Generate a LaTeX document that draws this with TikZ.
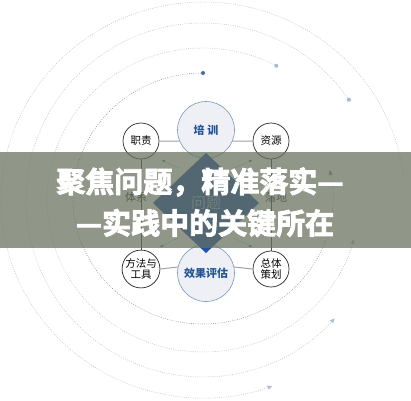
\documentclass[tikz,border=0pt]{standalone}
\usepackage{fontspec}
\setmainfont{Noto Sans CJK SC}
\newfontfamily\headfont[FakeBold=3]{Noto Sans CJK SC Bold}
\usetikzlibrary{arrows.meta}
\definecolor{arcone}{RGB}{120,140,175}
\definecolor{arcout}{RGB}{175,188,205}
\definecolor{dotone}{RGB}{70,105,160}
\definecolor{dotout}{RGB}{165,185,212}
\definecolor{bannerc}{RGB}{102,112,91}
\definecolor{diamc}{RGB}{32,80,172}
\definecolor{bigfill}{RGB}{238,240,245}
\definecolor{bigline}{RGB}{120,150,185}
\definecolor{bigtext}{RGB}{35,85,150}
\definecolor{linkc}{RGB}{160,160,160}
\definecolor{greenc}{RGB}{60,150,90}
\tikzset{
  arcdot/.style={line width=0.5pt, dash pattern=on 0.8pt off 1.4pt},
  tipx/.style={-{Triangle[length=4.5pt,width=4pt]}},
  bigc/.style={circle, minimum size=57pt, inner sep=0pt, fill=bigfill, draw=bigline, line width=0.6pt,
    text=bigtext, font=\bfseries\fontsize{11}{12}\selectfont},
  smallc/.style={circle, minimum size=36pt, inner sep=0pt, fill=white, draw=black!85, line width=0.7pt,
    align=center, font=\fontsize{10.5}{11.5}\selectfont},
  linkh/.style={draw=linkc, line width=1pt},
  linkv/.style={draw=black!70, line width=0.6pt},
  greenarr/.style={draw=greenc, line width=0.4pt, dash pattern=on 1pt off 1pt, -{Triangle[length=3pt,width=2.6pt]}},
  sidelab/.style={text=black!80, font=\fontsize{11}{12}\selectfont},
  headl/.style={text=white, font=\headfont\fontsize{29}{31}\selectfont}
}
\begin{document}
\begin{tikzpicture}[x=1pt,y=1pt]
\useasboundingbox (0,0) rectangle (411,400);
\fill[white] (0,0) rectangle (411,400);
% concentric dotted arcs
\draw[arcdot, color=arcone, tipx] ({203+130*cos(90)},{201.5+125.5*sin(90)}) arc[start angle=90, end angle=373, x radius=130, y radius=125.5];
\draw[arcdot, color=arcout, tipx] ({203+156*cos(62)},{200+152*sin(62)}) arc[start angle=62, end angle=345, x radius=156, y radius=152];
\draw[arcdot, color=arcout, tipx] ({203+177*cos(34.5)},{200+177*sin(34.5)}) arc[start angle=34.5, end angle=318, x radius=177, y radius=177];
\draw[arcdot, color=arcout, tipx] ({203+202*cos(7.5)},{200+198*sin(7.5)}) arc[start angle=7.5, end angle=290, x radius=202, y radius=198];
\fill[dotone] ({203+130*cos(90)},{201.5+125.5*sin(90)}) circle (2);
\fill[dotout] ({203+156*cos(62)},{200+152*sin(62)}) circle (2);
\fill[dotout] ({203+177*cos(34.5)},{200+177*sin(34.5)}) circle (2);
% nodes
\node[bigc] (px) at (206,270) {培\ 训};
\node[bigc] (xg) at (206,127) {效果评估};
\node[smallc] (zz) at (141,259) {职责};
\node[smallc] (zy) at (271,259) {资源};
\node[smallc] (ff) at (141,131) {方法与\\工具};
\node[smallc] (zt) at (271,131) {总体\\策划};
% connectors
\draw[linkh] (zz.east) -- (px.203);
\draw[linkh] (zy.west) -- (px.-23);
\draw[linkh] (ff.east) -- (xg.168);
\draw[linkh] (zt.west) -- (xg.12);
\draw[linkv] (zz.south) -- (ff.north);
\draw[linkv] (zy.south) -- (zt.north);
% diamond
\fill[diamc] (206,247) -- (259,197) -- (206,147) -- (153,197) -- cycle;
\node[text={rgb,255:red,150;green,172;blue,205}, font=\fontsize{15}{16}\selectfont] (wt) at (206,197) {问题};
\node[sidelab] (tx) at (136,203) {体系};
\node[sidelab] (ld) at (276,203) {落地};
% green arrows
\coordinate (g1) at (178,232); \coordinate (g1e) at (162,240);
\coordinate (g2) at (234,232); \coordinate (g2e) at (252,240);
\coordinate (g3) at (178,162); \coordinate (g3e) at (160,153);
\coordinate (g4) at (234,162); \coordinate (g4e) at (252,153);
\draw[greenarr] (g1) -- (g1e);
\draw[greenarr] (g2) -- (g2e);
\draw[greenarr] (g3) -- (g3e);
\draw[greenarr] (g4) -- (g4e);
% banner
\fill[bannerc, opacity=0.72] (0,152) rectangle (411,248);
\node[headl] (h1) at (200,218) {聚焦问题，精准落实—};
\node[headl] (h2) at (205,177) {—实践中的关键所在};
\end{tikzpicture}
\end{document}
